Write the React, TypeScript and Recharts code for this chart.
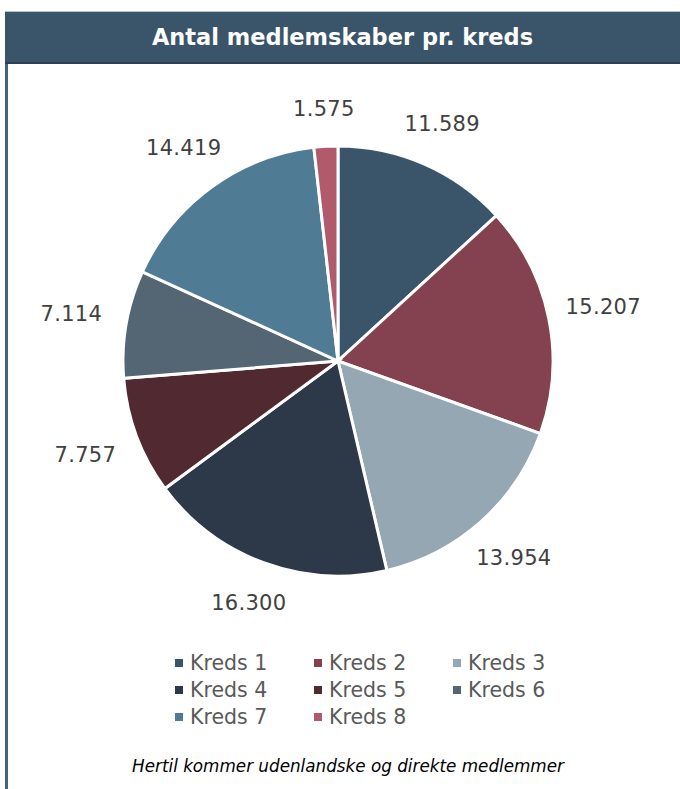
import React from 'react';
import { PieChart, Pie, Cell, Legend } from 'recharts';

const categories = ['Kreds 1', 'Kreds 2', 'Kreds 3', 'Kreds 4', 'Kreds 5', 'Kreds 6', 'Kreds 7', 'Kreds 8'];
const members = [11589, 15207, 13954, 16300, 7757, 7114, 14419, 1575];
const colors = ['#3a556a', '#84414f', '#95a7b3', '#2d3848', '#512a31', '#546574', '#4f7b94', '#b05a6c'];
const title = 'Antal medlemskaber pr. kreds';
const footnote = 'Hertil kommer udenlandske og direkte medlemmer';

const data = categories.map((name, i) => ({ name, value: members[i] }));

const FONT = '"DejaVu Sans", Verdana, sans-serif';
const RAD = Math.PI / 180;

const fmt = (v: number) => String(v).replace(/\B(?=(\d{3})+(?!\d))/g, '.');

const renderLabel = (props: any) => {
  const { cx, cy, midAngle, outerRadius, value } = props;
  const c = Math.cos(-midAngle * RAD);
  const s = Math.sin(-midAngle * RAD);
  const r = outerRadius + 36 + 20 * Math.abs(c);
  const x = cx + r * c;
  const y = cy + r * s;
  return (
    <text
      x={x}
      y={y}
      textAnchor="middle"
      dominantBaseline="central"
      fill="#404040"
      fontSize={21}
      letterSpacing={0.3}
      fontFamily={FONT}
    >
      {fmt(value)}
    </text>
  );
};

const renderLegend = (props: any) => {
  const payload = props.payload || [];
  return (
    <div style={{ display: 'flex', flexWrap: 'wrap', width: 417, marginLeft: 172 }}>
      {payload.map((p: any, i: number) => (
        <div
          key={i}
          style={{ width: 139, height: 27, display: 'flex', alignItems: 'center', fontFamily: FONT, fontSize: 20.5, color: '#595959' }}
        >
          <span style={{ display: 'inline-block', width: 8, height: 8, background: p.color, marginLeft: 3, marginRight: 7 }} />
          <span>{p.value}</span>
        </div>
      ))}
    </div>
  );
};

export default function App() {
  return (
    <div style={{ position: 'absolute', left: 0, top: 0, width: 680, height: 789, background: '#ffffff', overflow: 'hidden' }}>
      <div
        style={{
          position: 'absolute',
          left: 5,
          top: 11,
          width: 675,
          height: 50,
          background: '#3a5469',
          borderTop: '1px solid #b8c2cc',
          borderBottom: '2px solid #2c4052',
          color: '#ffffff',
          fontFamily: FONT,
          fontWeight: 'bold',
          fontSize: 22.5,
          display: 'flex',
          alignItems: 'center',
          justifyContent: 'center',
        }}
      >
        {title}
      </div>
      <div style={{ position: 'absolute', left: 5, top: 64, width: 3, height: 725, background: '#4b6378' }} />
      <div style={{ position: 'absolute', left: 0, top: 0 }}>
        <PieChart width={680} height={789} margin={{ top: 0, right: 0, bottom: 0, left: 0 }}>
          <Pie
            data={data}
            dataKey="value"
            nameKey="name"
            cx={338}
            cy={361}
            outerRadius={215}
            startAngle={90}
            endAngle={-270}
            stroke="#ffffff"
            strokeWidth={3}
            label={renderLabel}
            labelLine={false}
            isAnimationActive={false}
          >
            {data.map((d, i) => (
              <Cell key={d.name} fill={colors[i]} />
            ))}
          </Pie>
          <Legend
            content={renderLegend}
            wrapperStyle={{ position: 'absolute', left: 0, top: 649, width: 680, height: 81 }}
          />
        </PieChart>
      </div>
      <div
        style={{
          position: 'absolute',
          left: 0,
          width: 696,
          top: 756,
          textAlign: 'center',
          fontFamily: FONT,
          fontStyle: 'italic',
          fontSize: 16.8,
          color: '#000000',
        }}
      >
        {footnote}
      </div>
    </div>
  );
}
